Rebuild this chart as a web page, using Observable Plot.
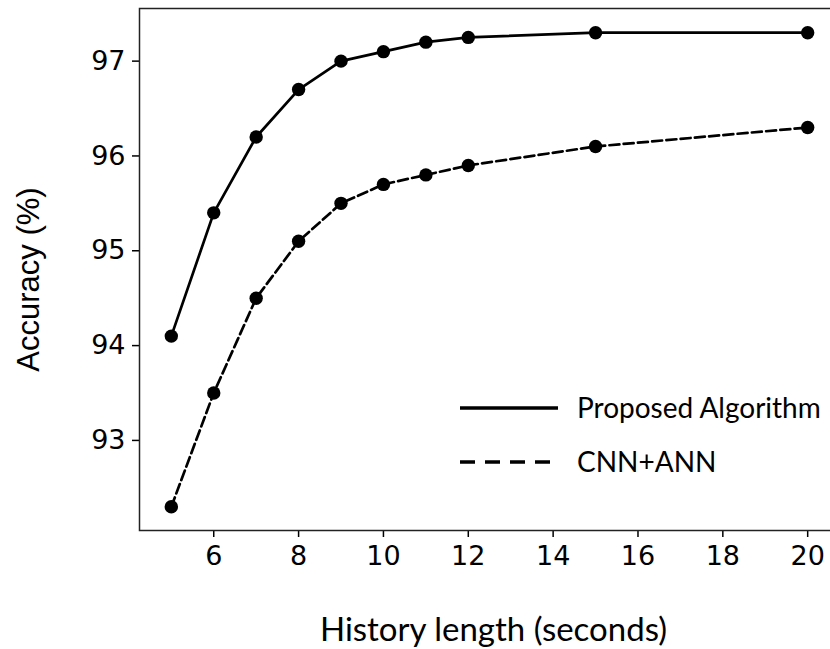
<!DOCTYPE html>
<html><head><meta charset="utf-8">
<script src="https://cdn.jsdelivr.net/npm/d3@7"></script>
<script src="https://cdn.jsdelivr.net/npm/@observablehq/plot@0.6"></script>
<style>
body{margin:0;overflow:hidden;background:#fff}
#chart svg [aria-label="y-axis tick"] path,#chart svg [aria-label="x-axis tick"] path{stroke-width:1.5px}
</style>
</head><body><div id="chart"></div>
<script>
const historyLength = [5, 6, 7, 8, 9, 10, 11, 12, 15, 20];
const proposed = [94.1, 95.4, 96.2, 96.7, 97.0, 97.1, 97.2, 97.25, 97.3, 97.3];
const cnnAnn = [92.3, 93.5, 94.5, 95.1, 95.5, 95.7, 95.8, 95.9, 96.1, 96.3];
const seriesNames = ["Proposed Algorithm", "CNN+ANN"];
const xTicks = [6, 8, 10, 12, 14, 16, 18, 20];
const yTicks = [93, 94, 95, 96, 97];
const xDomain = [4.25, 20.75];
const yDomain = [92.05, 97.555];
const xLabel = "History length (seconds)";
const yLabel = "Accuracy (%)";

const rows = [];
historyLength.forEach((h, i) => {
  rows.push({x: h, y: proposed[i], series: seriesNames[0]});
  rows.push({x: h, y: cnnAnn[i], series: seriesNames[1]});
});

const chart = Plot.plot({
  width: 830, height: 649,
  marginLeft: 139, marginTop: 8, marginRight: -9, marginBottom: 119,
  style: {background: "#fff", color: "#000", fontFamily: "DejaVu Sans", fontSize: "27px"},
  x: {domain: xDomain, ticks: xTicks, tickSize: 7, tickPadding: 8, tickFormat: d => String(d), label: null},
  y: {domain: yDomain, ticks: yTicks, tickSize: 7, tickPadding: 7, tickFormat: d => String(d), label: null},
  marks: [
    Plot.frame({stroke: "#222", strokeWidth: 1.5}),
    Plot.line(rows.filter(d => d.series === seriesNames[0]), {x: "x", y: "y", stroke: "#000", strokeWidth: 2.7}),
    Plot.line(rows.filter(d => d.series === seriesNames[1]), {x: "x", y: "y", stroke: "#000", strokeWidth: 2.7, strokeDasharray: "10,4.3"}),
    Plot.dot(rows, {x: "x", y: "y", r: 6.7, fill: "#000"}),
    Plot.text([yLabel], {frameAnchor: "left", textAnchor: "middle", lineAnchor: "middle", rotate: -90, dx: -110, dy: 10, fontSize: 31, fontFamily: "Liberation Sans", fill: "#000"}),
    Plot.text([xLabel], {frameAnchor: "bottom", textAnchor: "middle", lineAnchor: "bottom", dx: 4, dy: 110, fontSize: 33, fontFamily: "Lato", fill: "#000"})
  ]
});
document.getElementById("chart").appendChild(chart);

// legend
const svg = d3.select(chart);
const lg = svg.append("g").attr("font-family", "Lato").attr("font-size", 28).attr("fill", "#000").attr("text-anchor", "start");
const legendRows = [
  {name: seriesNames[0], y: 408, x2: 558, dash: null},
  {name: seriesNames[1], y: 462, x2: 552, dash: "15,10"}
];
legendRows.forEach(r => {
  lg.append("line").attr("x1", 460).attr("x2", r.x2).attr("y1", r.y).attr("y2", r.y)
    .attr("stroke", "#000").attr("stroke-width", 3.4).attr("stroke-dasharray", r.dash);
  lg.append("text").attr("x", 577).attr("y", r.y).attr("dy", "0.35em").attr("text-anchor", "start").text(r.name);
});
</script>
</body></html>
